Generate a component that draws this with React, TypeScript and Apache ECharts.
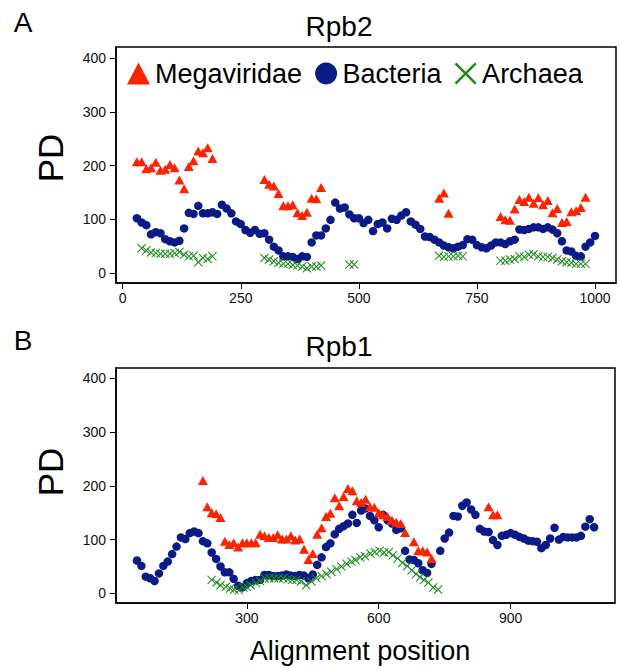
import React, { useEffect, useRef } from "react";
import * as echarts from "echarts";

// ---------- Data ----------
// Panel A: Rpb2
const rpb2MegaX = [30, 40, 50, 60, 70, 80, 90, 100, 110, 120, 130, 140, 150, 160, 170, 180, 190,
  300, 310, 320, 330, 340, 350, 360, 370, 380, 390, 400, 410, 420,
  670, 680, 690,
  800, 810, 820, 830, 840, 850, 860, 870, 880, 890, 900, 910, 920, 930, 940, 950, 960, 970, 980];
const rpb2MegaY = [207, 207, 194, 196, 206, 191, 193, 202, 196, 173, 157, 198, 209, 227, 224, 233, 213,
  174, 165, 162, 148, 125, 125, 127, 112, 107, 113, 139, 138, 159,
  139, 149, 111,
  105, 99, 98, 119, 137, 133, 141, 130, 140, 127, 135, 112, 120, 94, 96, 114, 116, 122, 141];

const rpb2BactX = [30, 40, 50, 60, 70, 80, 90, 100, 110, 120, 130, 140, 150, 160, 170, 180, 190, 200, 210, 220,
  230, 240, 250, 260, 270, 280, 290, 300, 310, 320, 330, 340, 350, 360, 370, 380, 390, 400, 410, 420,
  430, 440, 450, 460, 470, 480, 490, 500, 510, 520, 530, 540, 550, 560, 570, 580, 590, 600, 610, 620,
  630, 640, 650, 660, 670, 680, 690, 700, 710, 720, 730, 740, 750, 760, 770, 780, 790, 800, 810, 820,
  830, 840, 850, 860, 870, 880, 890, 900, 910, 920, 930, 940, 950, 960, 970, 980, 990, 1000];
const rpb2BactY = [102, 94, 89, 72, 76, 74, 63, 59, 57, 60, 83, 112, 110, 125, 111, 111, 113, 110, 127, 120,
  111, 96, 91, 80, 75, 80, 73, 74, 62, 49, 42, 31, 31, 30, 26, 31, 30, 57, 70, 70,
  83, 99, 131, 120, 122, 109, 102, 102, 93, 99, 78, 91, 94, 83, 101, 99, 107, 113, 96, 90,
  82, 68, 67, 62, 57, 51, 48, 46, 49, 52, 63, 62, 52, 48, 46, 51, 57, 57, 54, 59,
  62, 81, 80, 82, 85, 85, 82, 85, 81, 74, 59, 42, 40, 32, 31, 49, 57, 69];

const rpb2ArchX = [40, 50, 60, 70, 80, 90, 100, 110, 120, 130, 140, 150, 160, 170, 180, 190,
  300, 310, 320, 330, 340, 350, 360, 370, 380, 390, 400, 410, 420,
  480, 490,
  670, 680, 690, 700, 710, 720,
  800, 810, 820, 830, 840, 850, 860, 870, 880, 890, 900, 910, 920, 930, 940, 950, 960, 970, 980];
const rpb2ArchY = [46, 42, 38, 37, 36, 36, 36, 37, 39, 34, 31, 32, 20, 28, 26, 31,
  28, 25, 22, 19, 17, 17, 15, 14, 12, 9, 12, 12, 14,
  16, 16,
  32, 30, 31, 31, 32, 31,
  23, 23, 25, 26, 31, 30, 34, 35, 31, 30, 30, 28, 25, 22, 20, 19, 17, 17, 17];

// Panel B: Rpb1
const rpb1MegaX = [200, 210, 220, 230, 240, 250, 260, 270, 280, 290, 300, 310, 320, 330, 340, 350, 360, 370,
  380, 390, 400, 410, 420, 430, 440, 450, 460, 470, 480, 490, 500, 510, 520, 530, 540, 550, 560, 570,
  580, 590, 600, 610, 620, 630, 640, 650, 660, 680, 690, 700, 710, 720, 850, 860, 870];
const rpb1MegaY = [210, 161, 150, 148, 141, 97, 91, 94, 86, 94, 94, 94, 94, 110, 107, 104, 104, 109,
  101, 101, 107, 99, 101, 82, 63, 74, 110, 122, 143, 149, 178, 163, 180, 195, 191, 172, 169, 175,
  161, 160, 150, 146, 143, 136, 132, 130, 113, 96, 79, 79, 77, 65, 161, 146, 146];

const rpb1BactX = [50, 60, 70, 80, 90, 100, 110, 120, 130, 140, 150, 160, 170, 180, 190, 200, 210, 220,
  230, 240, 250, 260, 270, 280, 290, 300, 310, 320, 330, 340, 350, 360, 370, 380, 390, 400, 410, 420,
  430, 440, 450, 460, 470, 480, 490, 500, 510, 520, 530, 540, 550, 560, 570, 580, 590, 600, 610, 620,
  630, 640, 650, 660, 670, 680, 690, 700, 710, 720, 740, 750, 760, 770, 780, 790, 800, 810, 820, 830,
  840, 850, 860, 870, 880, 890, 900, 910, 920, 930, 940, 950, 960, 970, 980, 990, 1000, 1010, 1020,
  1030, 1040, 1050, 1060, 1070, 1080, 1090];
const rpb1BactY = [61, 51, 31, 28, 23, 37, 51, 59, 73, 87, 104, 101, 112, 115, 112, 97, 93, 76,
  64, 50, 39, 39, 27, 14, 11, 19, 23, 25, 25, 34, 34, 32, 32, 33, 35, 33, 32, 34,
  33, 28, 35, 53, 67, 86, 93, 110, 120, 125, 130, 146, 131, 154, 158, 144, 136, 123, 146, 136,
  130, 118, 121, 79, 63, 62, 56, 43, 38, 55, 79, 102, 113, 144, 143, 163, 169, 156, 146, 120,
  115, 114, 99, 90, 107, 109, 112, 109, 105, 102, 98, 97, 96, 84, 90, 102, 122, 100, 105,
  104, 104, 104, 107, 124, 138, 123];

const rpb1ArchX = [220, 231, 240, 252, 262, 271, 282, 292, 300, 309, 321, 330, 341, 351, 362, 372, 383,
  393, 403, 413, 423, 435, 447, 458, 470, 481, 492, 504, 515, 527, 538, 547, 558, 569, 581, 591, 602,
  612, 623, 632, 643, 654, 665, 675, 685, 694, 703, 713, 724, 735];
const rpb1ArchY = [25, 20, 15, 12, 9, 7, 6, 11, 12, 15, 19, 23, 28, 28, 28, 28, 28,
  26, 25, 25, 22, 15, 22, 28, 32, 36, 40, 45, 50, 55, 59, 62, 67, 69, 74, 77, 79,
  76, 77, 71, 65, 57, 51, 43, 36, 30, 25, 20, 11, 7];

// Tick labels
const rpb2XTicks = [0, 250, 500, 750, 1000];
const rpb1XTicks = [0, 300, 600, 900];
const yTicks = [0, 100, 200, 300, 400];

const seriesNames = ["Megaviridae", "Bacteria", "Archaea"];

// ---------- Styles ----------
const RED = "#ff2200";
const NAVY = "#0a1a86";
const GREEN = "#1a8c1a";
const FONT = "'Liberation Sans', Arial, sans-serif";
const CROSS =
  "path://M1.6,0L10,8.4L18.4,0L20,1.6L11.6,10L20,18.4L18.4,20L10,11.6L1.6,20L0,18.4L8.4,10L0,1.6Z";

const zip = (xs: number[], ys: number[]) => xs.map((x, i) => [x, ys[i]]);
const plain = (v: number) => String(v);

function xAxisCfg(gridIndex: number, min: number, max: number, ticks: number[]) {
  return {
    type: "value",
    gridIndex,
    min,
    max,
    axisLine: { show: true, onZero: false, lineStyle: { color: "#000", width: 1.5 } },
    axisTick: { show: true, length: 6, customValues: ticks, lineStyle: { color: "#000", width: 1 } },
    axisLabel: { customValues: ticks, formatter: plain, fontSize: 14, color: "#111", fontFamily: FONT, margin: 8 },
    splitLine: { show: false },
  };
}
function yAxisCfg(gridIndex: number, min: number, max: number) {
  return {
    type: "value",
    gridIndex,
    min,
    max,
    axisLine: { show: true, onZero: false, lineStyle: { color: "#000", width: 1.5 } },
    axisTick: { show: true, length: 6, customValues: yTicks, lineStyle: { color: "#000", width: 1 } },
    axisLabel: { customValues: yTicks, formatter: plain, fontSize: 14, color: "#111", fontFamily: FONT, margin: 10 },
    splitLine: { show: false },
  };
}

function scatter(name: string, idx: number, data: number[][]) {
  const common: any = {
    type: "scatter",
    name,
    xAxisIndex: idx,
    yAxisIndex: idx,
    data,
    silent: true,
  };
  if (name === "Megaviridae") {
    return { ...common, symbol: "triangle", symbolSize: [10, 9], itemStyle: { color: RED, opacity: 1 }, z: 3 };
  }
  if (name === "Bacteria") {
    return { ...common, symbol: "circle", symbolSize: 8.5, itemStyle: { color: NAVY, opacity: 1 }, z: 2 };
  }
  return { ...common, symbol: CROSS, symbolSize: 9, itemStyle: { color: GREEN, opacity: 1 }, z: 4 };
}

export default function App() {
  const ref = useRef<HTMLDivElement>(null);
  useEffect(() => {
    if (!ref.current) return;
    const chart = echarts.init(ref.current, undefined, { renderer: "svg" });
    const option: any = {
      animation: false,
      backgroundColor: "#fff",
      grid: [
        { left: 116, top: 47, width: 500, height: 236, show: true, borderColor: "#000", borderWidth: 1.5 },
        { left: 116, top: 368, width: 499, height: 235, show: true, borderColor: "#000", borderWidth: 1.5 },
      ],
      xAxis: [xAxisCfg(0, -14.2, 1044.5, rpb2XTicks), xAxisCfg(1, 2.3, 1137.5, rpb1XTicks)],
      yAxis: [yAxisCfg(0, -18.6, 420.6), yAxisCfg(1, -18, 419.2)],
      legend: {
        left: 127,
        top: 60,
        padding: 0,
        itemWidth: 23,
        itemHeight: 22,
        itemGap: 13,
        selectedMode: false,
        textStyle: { fontSize: 27, color: "#000", fontFamily: FONT },
        data: [
          { name: seriesNames[0], icon: "triangle", itemStyle: { color: RED, opacity: 1 } },
          { name: seriesNames[1], icon: "circle", itemStyle: { color: NAVY, opacity: 1 } },
          { name: seriesNames[2], icon: CROSS, itemStyle: { color: GREEN, opacity: 1 } },
        ],
      },
      series: [
        scatter("Bacteria", 0, zip(rpb2BactX, rpb2BactY)),
        scatter("Megaviridae", 0, zip(rpb2MegaX, rpb2MegaY)),
        scatter("Archaea", 0, zip(rpb2ArchX, rpb2ArchY)),
        scatter("Bacteria", 1, zip(rpb1BactX, rpb1BactY)),
        scatter("Megaviridae", 1, zip(rpb1MegaX, rpb1MegaY)),
        scatter("Archaea", 1, zip(rpb1ArchX, rpb1ArchY)),
      ],
      graphic: [
        { type: "text", x: 23, y: 22, style: { text: "A", font: `28px ${FONT}`, fill: "#000", textAlign: "center", textVerticalAlign: "middle" } },
        { type: "text", x: 23, y: 340, style: { text: "B", font: `28px ${FONT}`, fill: "#000", textAlign: "center", textVerticalAlign: "middle" } },
        { type: "text", x: 339, y: 26, style: { text: "Rpb2", font: `28px ${FONT}`, fill: "#000", textAlign: "center", textVerticalAlign: "middle" } },
        { type: "text", x: 339, y: 346, style: { text: "Rpb1", font: `28px ${FONT}`, fill: "#000", textAlign: "center", textVerticalAlign: "middle" } },
        { type: "text", x: 50, y: 158, rotation: Math.PI / 2, style: { text: "PD", font: `35px ${FONT}`, fill: "#000", textAlign: "center", textVerticalAlign: "middle" } },
        { type: "text", x: 50, y: 472, rotation: Math.PI / 2, style: { text: "PD", font: `35px ${FONT}`, fill: "#000", textAlign: "center", textVerticalAlign: "middle" } },
        { type: "text", x: 360, y: 651, style: { text: "Alignment position", font: `27px ${FONT}`, fill: "#000", textAlign: "center", textVerticalAlign: "middle" } },
      ],
    };
    chart.setOption(option);
    return () => chart.dispose();
  }, []);
  return (
    <div
      ref={ref}
      style={{ position: "absolute", left: 0, top: 0, width: 620, height: 668 }}
    />
  );
}
